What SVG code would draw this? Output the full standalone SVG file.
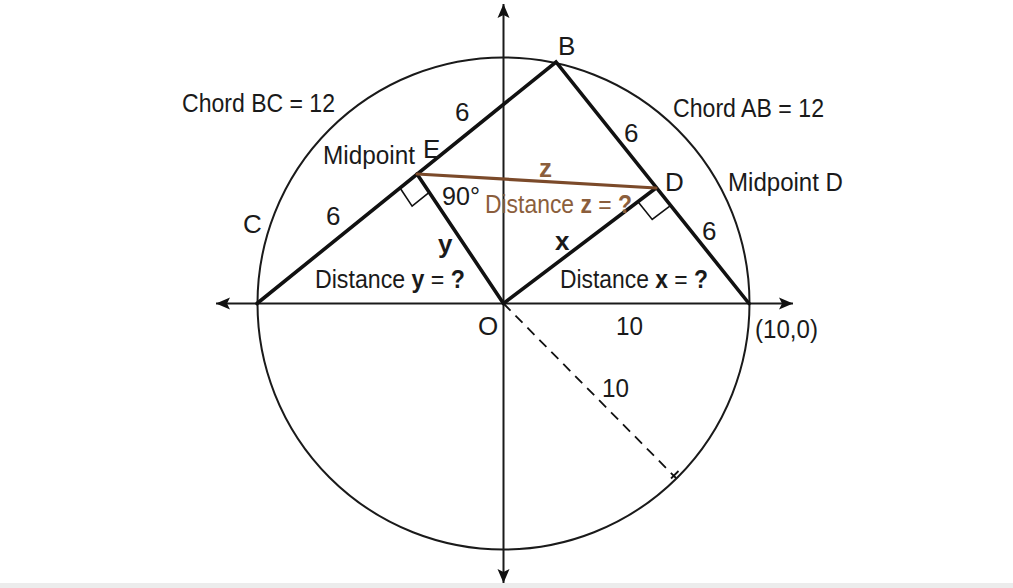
<svg xmlns="http://www.w3.org/2000/svg" width="1013" height="588" viewBox="0 0 1013 588">
<style>
.t{font-family:"Liberation Sans",Arial,sans-serif;font-size:26px;fill:#1a1a1a}
.b{font-weight:bold}
.br{fill:#8B5E3C}
.thin{stroke:#1a1a1a;stroke-width:2;fill:none}
.thick{stroke:#111;stroke-width:3.6;fill:none;stroke-linecap:round}
.box{stroke:#111;stroke-width:1.6;fill:none}
</style>
<defs>
<marker id="arr" markerUnits="userSpaceOnUse" markerWidth="15" markerHeight="13" refX="14" refY="6.5" orient="auto-start-reverse">
<path d="M0,0.5 L14,6.5 L0,12.5 L3,6.5 z" fill="#111"/>
</marker>
</defs>
<rect x="0" y="0" width="1013" height="588" fill="#fff"/>
<rect x="0" y="583" width="1013" height="5" fill="#ececec"/>
<g id="axes">
<line class="thin" x1="216" y1="303.5" x2="793" y2="303.5" marker-start="url(#arr)" marker-end="url(#arr)"/>
<line class="thin" x1="503.5" y1="4" x2="503.5" y2="583" marker-start="url(#arr)" marker-end="url(#arr)"/>
</g>
<g id="circle">
<circle class="thin" cx="503.5" cy="303.5" r="246"/>
</g>
<g id="connectors">
<polyline class="thick" points="257,303.5 556,62 749,303.5"/>
<line class="thick" x1="417" y1="174" x2="503.5" y2="303.5"/>
<line class="thick" x1="656" y1="188" x2="503.5" y2="303.5"/>
<line x1="417" y1="174" x2="656" y2="188" stroke="#7B4A2A" stroke-width="3.2" stroke-linecap="round"/>
<line x1="503.5" y1="303.5" x2="676" y2="478" stroke="#111" stroke-width="1.8" stroke-dasharray="10,7"/>
<line x1="671" y1="478.5" x2="678.5" y2="471" stroke="#111" stroke-width="1.8"/>
<polyline class="box" points="399.9,187.8 412.1,206.1 429.2,192.3"/>
<polyline class="box" points="638.4,202.3 652.2,219.4 669.8,206.1"/>
</g>
<g id="labels">
<text class="t" x="558" y="55">B</text>
<text class="t" x="243" y="233">C</text>
<text class="t" x="665" y="191">D</text>
<text class="t" x="423" y="158">E</text>
<text class="t" x="478" y="335">O</text>
<text class="t" x="182" y="112" textLength="153" lengthAdjust="spacingAndGlyphs">Chord BC = 12</text>
<text class="t" x="673" y="117" textLength="151" lengthAdjust="spacingAndGlyphs">Chord AB = 12</text>
<text class="t" x="323" y="164" textLength="92" lengthAdjust="spacingAndGlyphs">Midpoint</text>
<text class="t" x="728" y="191" textLength="115" lengthAdjust="spacingAndGlyphs">Midpoint D</text>
<text class="t" x="455" y="121">6</text>
<text class="t" x="326" y="225">6</text>
<text class="t" x="624" y="142">6</text>
<text class="t" x="702" y="240">6</text>
<text class="t" x="442" y="205" textLength="38" lengthAdjust="spacingAndGlyphs">90°</text>
<text class="t b br" x="539" y="177">z</text>
<text class="t br" x="485" y="213" textLength="147" lengthAdjust="spacingAndGlyphs">Distance <tspan class="b">z</tspan> = <tspan class="b">?</tspan></text>
<text class="t b" x="438" y="253">y</text>
<text class="t b" x="555" y="250">x</text>
<text class="t" x="315" y="288" textLength="150" lengthAdjust="spacingAndGlyphs">Distance <tspan class="b">y</tspan> = <tspan class="b">?</tspan></text>
<text class="t" x="560" y="288" textLength="148" lengthAdjust="spacingAndGlyphs">Distance <tspan class="b">x</tspan> = <tspan class="b">?</tspan></text>
<text class="t" x="616" y="335" textLength="27" lengthAdjust="spacingAndGlyphs">10</text>
<text class="t" x="602" y="397" textLength="27" lengthAdjust="spacingAndGlyphs">10</text>
<text class="t" x="755" y="338" textLength="63" lengthAdjust="spacingAndGlyphs">(10,0)</text>
</g>
</svg>
